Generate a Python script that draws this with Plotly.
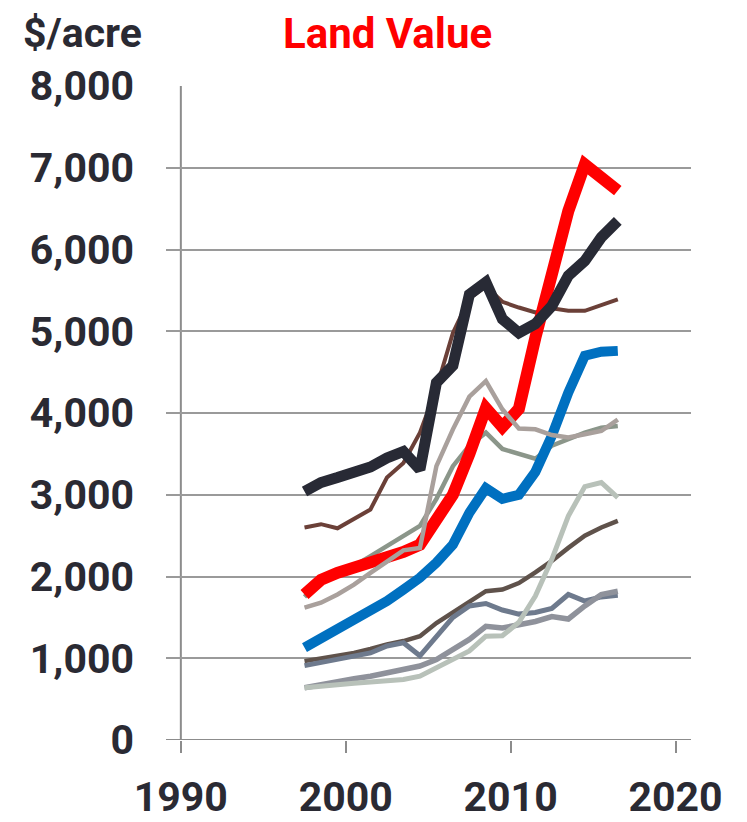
import plotly.graph_objects as go

years = list(range(1997, 2017))

gray_green = [1750, 1950, 2050, 2130, 2250, 2370, 2500, 2620, 2950, 3350, 3600, 3760, 3560, 3500, 3440, 3600, 3680, 3760, 3820, 3840]
brown = [2600, 2640, 2590, 2700, 2820, 3210, 3390, 3760, 4300, 4980, 5400, 5550, 5360, 5290, 5230, 5280, 5250, 5250, 5320, 5390]
red = [1780, 1960, 2045, 2105, 2170, 2230, 2300, 2390, 2700, 3000, 3500, 4060, 3830, 4050, 4920, 5760, 6470, 7040, 6880, 6720]
black = [3040, 3150, 3210, 3260, 3340, 3450, 3530, 3310, 4370, 4580, 5450, 5600, 5150, 4980, 5090, 5310, 5680, 5860, 6150, 6350]
blue = [1130, 1240, 1350, 1455, 1565, 1700, 1840, 1985, 2170, 2390, 2780, 3080, 2950, 3000, 3280, 3720, 4250, 4700, 4750, 4760]
dark = [965, 995, 1025, 1065, 1115, 1170, 1210, 1270, 1430, 1560, 1700, 1820, 1840, 1920, 2050, 2190, 2350, 2500, 2600, 2680]
slate = [910, 945, 985, 1025, 1065, 1150, 1190, 1030, 1270, 1500, 1640, 1670, 1590, 1540, 1560, 1610, 1780, 1700, 1750, 1770]
gray = [640, 680, 720, 750, 780, 820, 875, 905, 985, 1110, 1230, 1390, 1370, 1410, 1450, 1510, 1480, 1640, 1780, 1820]
light = [640, 650, 675, 695, 710, 720, 740, 780, 885, 985, 1090, 1270, 1275, 1440, 1760, 2210, 2740, 3100, 3150, 2965]
taupe = [1620, 1680, 1780, 1900, 2045, 2190, 2320, 2350, 3350, 3800, 4200, 4390, 4045, 3810, 3800, 3730, 3700, 3740, 3780, 3920]

x_ticks = [1990, 2000, 2010, 2020]
y_ticks = [0, 1000, 2000, 3000, 4000, 5000, 6000, 7000, 8000]
y_tick_text = ["0", "1,000", "2,000", "3,000", "4,000", "5,000", "6,000", "7,000", "8,000"]

# plotted at mid-year
xs = [y + 0.5 for y in years]

series = [
    (gray_green, "#8b968a", 4.5),
    (brown, "#6b4038", 4),
    (red, "#ff0000", 12),
    (black, "#282a35", 11),
    (blue, "#0070c0", 10),
    (dark, "#5f524b", 4.5),
    (slate, "#6e7a8d", 5),
    (gray, "#8f929b", 5.5),
    (light, "#b8c1b9", 5),
    (taupe, "#a9a09c", 4.5),
]

fig = go.Figure()
for vals, color, w in series:
    fig.add_trace(go.Scatter(x=xs, y=vals, mode="lines",
                             line=dict(color=color, width=w),
                             hoverinfo="skip", showlegend=False))

FONT = "Roboto, 'Open Sans', sans-serif"
tick_font = dict(family=FONT, size=41, color="#2a2a33", weight="bold")

# page has an 8px body margin; figure sized to fit the 747x822 window
fig.update_layout(
    width=739, height=814,
    margin=dict(l=157.5, r=56, t=78, b=81.5, autoexpand=False),
    paper_bgcolor="white", plot_bgcolor="white",
    showlegend=False,
    xaxis=dict(range=[1989.1, 2020.94], tickvals=x_ticks, ticktext=[str(t) for t in x_ticks],
               showgrid=False, zeroline=False, showline=False, automargin=False,
               ticks="outside", ticklen=12, tickwidth=2, tickcolor="#8c8c8c",
               tickfont=tick_font, ticklabelstandoff=9),
    yaxis=dict(range=[0, 8000], tickvals=y_ticks, ticktext=y_tick_text,
               showgrid=True, gridcolor="#9a9a9a", gridwidth=1.5, automargin=False,
               zeroline=False, showline=False, ticks="",
               tickfont=tick_font, ticklabelstandoff=31),
    shapes=[
        dict(type="line", xref="x", yref="y", x0=1990, x1=1990, y0=0, y1=8000,
             line=dict(color="#8c8c8c", width=2), layer="below"),
        dict(type="line", xref="paper", yref="y", x0=0, x1=1, y0=0, y1=0,
             line=dict(color="#8c8c8c", width=2), layer="below"),
    ],
    annotations=[
        dict(text="$/acre", xref="paper", yref="paper", x=(82 - 165.5) / 525.5, y=(740.5 - 33) / 654.5,
             xanchor="center", yanchor="middle", showarrow=False,
             font=dict(family=FONT, size=41, color="#2a2a33", weight="bold")),
        dict(text="Land Value", xref="paper", yref="paper", x=(387 - 165.5) / 525.5, y=(740.5 - 33) / 654.5,
             xanchor="center", yanchor="middle", showarrow=False,
             font=dict(family=FONT, size=42, color="#ff0000", weight="bold")),
    ],
)

fig.write_html("out.html")
